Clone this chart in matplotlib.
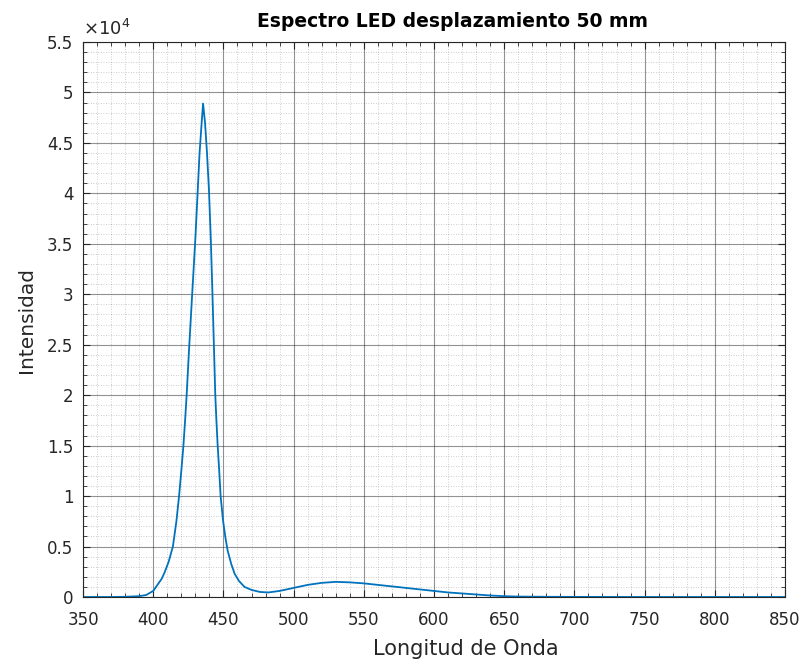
import matplotlib
matplotlib.use("Agg")
import matplotlib.pyplot as plt
from matplotlib.ticker import MultipleLocator, FuncFormatter

# Spectrum (wavelength in nm, intensity in counts)
wavelength = [350, 360, 370, 380, 390, 395, 400, 403, 406, 408, 411, 414, 416.5,
              418.4, 420, 421.5, 422.7, 423.8, 425.5, 427.9, 430, 431.7, 433,
              434.5, 435.5, 436.9, 438.3, 439.7, 441, 442.1, 443.3, 444.2, 445,
              445.9, 447, 448, 449.7, 451.4, 453, 455.5, 458, 461, 465, 470, 476,
              482, 490, 500, 510, 520, 530, 540, 550, 560, 570, 580, 590, 600,
              610, 620, 630, 640, 650, 660, 680, 700, 750, 800, 850]
intensity = [0, 0, 0, 20, 80, 200, 600, 1200, 1800, 2400, 3500, 5000, 7500,
             10000, 12500, 15000, 17500, 20000, 24500, 30400, 35500, 40300, 44000,
             47000, 48900, 47000, 44000, 40300, 35500, 30400, 24500, 20000, 17500,
             15000, 12500, 10000, 7600, 5900, 4600, 3300, 2300, 1600, 1000, 700, 500,
             450, 600, 900, 1200, 1400, 1500, 1450, 1350, 1200, 1050, 900, 750, 600,
             450, 350, 250, 150, 80, 40, 20, 10, 0, 0, 0]

title = "Espectro LED desplazamiento 50 mm"
xlabel = "Longitud de Onda"
ylabel = "Intensidad"

plt.rcParams["font.family"] = ["DejaVu Sans"]

fig = plt.figure(figsize=(8.07, 6.68), dpi=100)
ax = fig.add_axes([0.1029, 0.1063, 0.8698, 0.8308])

ax.plot(wavelength, intensity, color="#0072BD", linewidth=1.3)

ax.set_xlim(350, 850)
ax.set_ylim(0, 55000)
ax.xaxis.set_major_locator(MultipleLocator(50))
ax.xaxis.set_minor_locator(MultipleLocator(10))
ax.yaxis.set_major_locator(MultipleLocator(5000))
ax.yaxis.set_minor_locator(MultipleLocator(1000))
ax.yaxis.set_major_formatter(FuncFormatter(lambda v, p: f"{v / 1e4:g}"))

ax.grid(which="major", color="#262626", alpha=0.5, linewidth=0.8)
ax.grid(which="minor", color="#262626", alpha=0.3, linewidth=0.6, linestyle=(0, (1, 2)))
ax.set_axisbelow(True)

ax.tick_params(which="both", direction="in", top=True, right=True,
               colors="#262626", labelsize=12)
ax.tick_params(which="major", length=5)
ax.tick_params(which="minor", length=3)
ax.tick_params(axis="x", which="major", pad=10)
ax.tick_params(axis="y", which="major", pad=7)
for s in ax.spines.values():
    s.set_color("#262626")
    s.set_linewidth(0.8)

ax.set_title(title, fontsize=13.5, fontweight="bold", color="black", pad=11,
             x=0.527)
ax.set_xlabel(xlabel, fontsize=15, color="#262626", labelpad=8)
ax.xaxis.set_label_coords(0.546, -0.075)
ax.set_ylabel(ylabel, fontsize=14.5, color="#262626", labelpad=8)
ax.text(0.0, 1.005, r"$\times10^{4}$", transform=ax.transAxes, fontsize=13,
        color="#262626", ha="left", va="bottom")

fig.savefig("out.png", dpi=100)
